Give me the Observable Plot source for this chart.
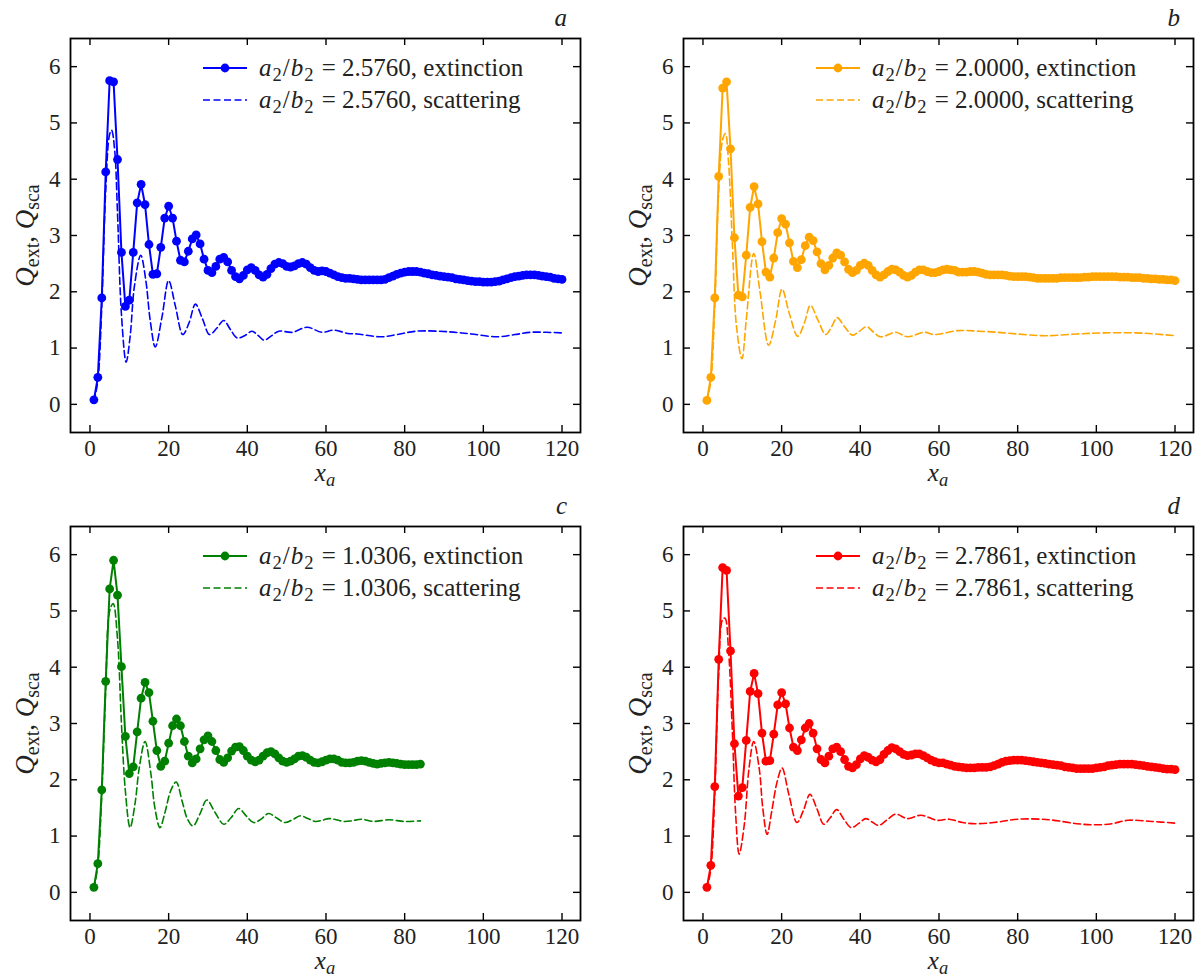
<!DOCTYPE html>
<html><head><meta charset="utf-8">
<script src="https://cdn.jsdelivr.net/npm/d3@7"></script>
<script src="https://cdn.jsdelivr.net/npm/@observablehq/plot@0.6"></script>
<style>
body{margin:0;background:#fff;}
#wrap{position:relative;width:1198px;height:979px;overflow:hidden;}
.panel{position:absolute;width:585px;height:488px;}
.panel svg{position:absolute;left:0;top:0;overflow:visible;}
.lab{position:absolute;color:#222;line-height:1;white-space:nowrap;}
.sb{font-size:0.74em;position:relative;top:0.25em;}
</style></head><body>
<div id="warm" style="position:absolute;left:-2000px;top:0;font-family:'Liberation Serif';font-size:24px">Qag 2.5760 <i>ab</i></div>
<div id="wrap"></div>
<script>
// ---------- data ----------
const xTicks = [0, 20, 40, 60, 80, 100, 120];
const yTicks = [0, 1, 2, 3, 4, 5, 6];
const panelLetters = ["a", "b", "c", "d"];
const ratios = ["2.5760", "2.0000", "1.0306", "2.7861"];
const colors = ["#0000ff", "#ffa500", "#008000", "#ff0000"];

// extinction, x = 1, 2, 3, ...
const extA = [0.08,0.48,1.89,4.13,5.75,5.73,4.35,2.70,1.74,1.85,2.70,3.58,3.91,3.55,2.84,2.31,2.32,2.79,3.31,3.52,
3.31,2.90,2.56,2.53,2.72,2.94,3.01,2.85,2.58,2.38,2.34,2.45,2.58,2.61,2.53,2.38,2.27,2.23,2.29,2.39,
2.43,2.38,2.30,2.26,2.31,2.41,2.49,2.52,2.50,2.45,2.44,2.46,2.50,2.52,2.49,2.43,2.38,2.36,2.37,2.36,
2.33,2.30,2.27,2.25,2.24,2.24,2.23,2.22,2.21,2.21,2.21,2.21,2.21,2.21,2.22,2.25,2.28,2.31,2.33,2.35,
2.36,2.36,2.36,2.35,2.33,2.32,2.30,2.29,2.28,2.27,2.26,2.25,2.23,2.22,2.21,2.20,2.19,2.18,2.18,2.17,
2.17,2.17,2.18,2.19,2.21,2.23,2.25,2.27,2.28,2.29,2.30,2.30,2.30,2.29,2.28,2.27,2.26,2.24,2.23,2.22];
const extB = [0.07,0.48,1.89,4.05,5.62,5.73,4.54,2.96,1.94,1.91,2.65,3.50,3.87,3.56,2.89,2.35,2.26,2.60,3.05,3.30,
3.20,2.87,2.54,2.43,2.57,2.82,2.97,2.91,2.71,2.50,2.39,2.47,2.60,2.69,2.65,2.53,2.40,2.34,2.38,2.47,
2.51,2.47,2.38,2.30,2.26,2.30,2.36,2.40,2.39,2.35,2.29,2.26,2.29,2.35,2.39,2.39,2.36,2.34,2.34,2.36,
2.39,2.40,2.39,2.38,2.35,2.35,2.35,2.36,2.36,2.35,2.33,2.31,2.30,2.30,2.30,2.30,2.29,2.28,2.27,2.27,
2.27,2.27,2.26,2.25,2.24,2.24,2.24,2.24,2.24,2.24,2.25,2.25,2.25,2.25,2.25,2.25,2.26,2.26,2.27,2.27,
2.27,2.27,2.27,2.27,2.27,2.26,2.26,2.26,2.25,2.25,2.25,2.24,2.24,2.23,2.23,2.22,2.22,2.21,2.21,2.20];
const extC = [0.09,0.51,1.82,3.75,5.39,5.90,5.28,4.01,2.77,2.11,2.23,2.85,3.45,3.73,3.55,3.04,2.52,2.24,2.33,2.65,
2.96,3.08,2.96,2.68,2.42,2.30,2.37,2.55,2.71,2.78,2.68,2.52,2.36,2.31,2.39,2.51,2.58,2.59,2.52,2.42,
2.35,2.32,2.35,2.42,2.48,2.50,2.46,2.39,2.33,2.31,2.33,2.37,2.42,2.43,2.40,2.35,2.31,2.30,2.32,2.35,
2.37,2.37,2.35,2.31,2.30,2.30,2.31,2.33,2.34,2.33,2.31,2.29,2.28,2.29,2.30,2.31,2.30,2.29,2.28,2.27,
2.27,2.27,2.27,2.28];
const extD = [0.09,0.48,1.88,4.14,5.77,5.72,4.29,2.64,1.71,1.86,2.70,3.57,3.89,3.53,2.83,2.33,2.34,2.81,3.33,3.55,
3.35,2.92,2.58,2.52,2.71,2.92,3.00,2.83,2.55,2.36,2.30,2.42,2.55,2.58,2.50,2.36,2.24,2.21,2.27,2.37,
2.43,2.40,2.35,2.32,2.36,2.45,2.52,2.57,2.55,2.50,2.45,2.43,2.44,2.46,2.46,2.43,2.39,2.35,2.32,2.30,
2.30,2.28,2.26,2.24,2.23,2.22,2.21,2.21,2.21,2.22,2.22,2.22,2.23,2.25,2.28,2.31,2.33,2.34,2.35,2.35,
2.35,2.34,2.33,2.32,2.31,2.30,2.29,2.28,2.27,2.26,2.25,2.23,2.22,2.21,2.20,2.20,2.20,2.20,2.20,2.21,
2.22,2.23,2.25,2.26,2.27,2.28,2.28,2.28,2.28,2.27,2.26,2.25,2.24,2.23,2.22,2.21,2.20,2.19,2.19,2.18];

// scattering (dashed), read as (x, value) pairs along the curve
const scaAx = [1,2,3,4,5,5.5,6.3,7,8,9.2,10.2,11.3,12.9,14.2,15.3,16.6,18.3,20,21.7,23.6,25.2,26.8,28.6,30.4,32.2,34,35.7,37.4,39.3,41.2,42.8,44.3,46.2,48,51.4,55.2,59,62,65.5,68,74,78,83,91,97,103.6,108,112,116,120];
const scaAy = [0.05,0.42,1.75,3.8,4.8,4.87,4.5,3.4,1.6,0.75,1.2,2.1,2.65,2.2,1.5,1.02,1.55,2.20,1.75,1.24,1.45,1.78,1.52,1.24,1.35,1.49,1.33,1.18,1.22,1.30,1.22,1.14,1.22,1.30,1.28,1.37,1.28,1.32,1.26,1.25,1.20,1.24,1.30,1.29,1.25,1.20,1.24,1.28,1.28,1.27];
const scaBx = [1,2,3,4,5,5.7,6.5,7.5,8.5,9.9,11,12.9,14.5,16.7,18.5,20.1,22,24.1,25.8,27.3,29.2,31.2,32.7,34.1,36,38,39.8,41.6,43.4,45.2,49,52,56.2,59,64.7,70,75,80,87,95,102,110,115,120];
const scaBy = [0.05,0.42,1.75,3.8,4.7,4.81,4.3,2.8,1.4,0.81,1.5,2.68,2.0,1.05,1.5,2.05,1.6,1.21,1.45,1.76,1.5,1.24,1.38,1.54,1.38,1.23,1.3,1.38,1.28,1.20,1.28,1.20,1.28,1.24,1.31,1.30,1.28,1.25,1.22,1.25,1.27,1.27,1.25,1.22];
const scaCx = [1,2,3,4,5,5.9,7,8,9,10.2,11.5,12.5,14,15.5,16.5,17.8,19,20.5,21.9,23.5,24.8,26.2,28,29.7,31.8,34,35.8,37.8,39.7,41.6,43.5,45.4,47.5,49.6,51.5,53.5,55.4,57.3,59,60.7,62.6,64.6,66.5,69,72,76,80,84];
const scaCy = [0.06,0.48,1.75,3.6,5.0,5.13,4.5,3.0,1.8,1.15,1.6,2.2,2.68,2.1,1.5,1.15,1.4,1.8,1.96,1.6,1.3,1.18,1.4,1.64,1.42,1.21,1.32,1.49,1.36,1.24,1.30,1.40,1.32,1.24,1.29,1.36,1.31,1.26,1.28,1.31,1.29,1.26,1.27,1.30,1.26,1.29,1.26,1.27];
const scaDx = [1,2,3,4,5,5.6,6.5,7.5,8.3,9.2,10.5,11.7,12.9,14.3,15.2,16.3,17.5,18.8,20.1,21.8,23.9,25.5,27.2,29,30.7,32.3,34,35.8,37.7,39.5,41.4,43,44.7,47,49,52,55.4,59.6,62.6,66,70,75,80,88,95,100,104,108,114,120];
const scaDy = [0.05,0.42,1.75,3.9,4.85,4.87,4.3,2.8,1.4,0.68,1.2,2.2,2.68,2.2,1.5,1.03,1.45,1.95,2.21,1.75,1.24,1.45,1.74,1.48,1.21,1.32,1.47,1.3,1.15,1.22,1.31,1.25,1.19,1.3,1.39,1.31,1.37,1.28,1.30,1.24,1.22,1.25,1.30,1.29,1.22,1.20,1.22,1.28,1.26,1.23];

const extAll = [extA, extB, extC, extD];
const scaXAll = [scaAx, scaBx, scaCx, scaDx];
const scaYAll = [scaAy, scaBy, scaCy, scaDy];

// ---------- drawing ----------
const W = 585, H = 488, mL = 70, mR = 5, mT = 38, mB = 56;
const fw = W - mL - mR, fh = H - mT - mB;
const FONT = "'Liberation Serif'";
const TXT = "#222";
const warm = document.getElementById("warm");
void warm.offsetWidth; // force font matching early
const wrap = document.getElementById("wrap");
const ASC = 0.8375; // baseline offset (em) for line-height 1
const fontTargets = [];

function label(parent, html, size, left, baseline, extra) {
  const d = document.createElement("div");
  d.className = "lab";
  d.style.fontFamily = FONT;
  d.style.fontSize = size + "px";
  d.style.left = left + "px";
  d.style.top = (baseline - ASC * size) + "px";
  d.innerHTML = html;
  if (extra) Object.assign(d.style, extra);
  parent.appendChild(d);
  fontTargets.push(d);
  return d;
}

for (let k = 0; k < 4; k++) {
  const color = colors[k];
  const ext = extAll[k].map((v, i) => ({x: i + 1, y: v}));
  const sca = scaXAll[k].map((x, i) => ({x, y: scaYAll[k][i]}));
  const panel = document.createElement("div");
  panel.className = "panel";
  panel.style.left = (k % 2 === 0 ? 0 : 613) + "px";
  panel.style.top = (k < 2 ? 0 : 488) + "px";
  panel.style.fontFamily = FONT;
  wrap.appendChild(panel);

  const chart = Plot.plot({
    width: W, height: H, marginLeft: mL, marginRight: mR, marginTop: mT, marginBottom: mB,
    x: {domain: [-4.95, 124.7]},
    y: {domain: [-0.5, 6.5]},
    style: {fontFamily: FONT, fontSize: "23px", color: TXT, background: "transparent", overflow: "visible"},
    marks: [
      Plot.axisX(xTicks, {tickSize: 0, tickPadding: 7, label: null, fontSize: 23, fill: TXT, tickFormat: "d"}),
      Plot.axisY(yTicks, {tickSize: 0, tickPadding: 10, label: null, fontSize: 23, fill: TXT, tickFormat: "d"}),
      Plot.ruleX(xTicks, {x: d => d, insetTop: fh - 7, stroke: "#000", strokeWidth: 1.4}),
      Plot.ruleX(xTicks, {x: d => d, insetBottom: fh - 7, stroke: "#000", strokeWidth: 1.4}),
      Plot.ruleY(yTicks, {y: d => d, insetRight: fw - 7, stroke: "#000", strokeWidth: 1.4}),
      Plot.ruleY(yTicks, {y: d => d, insetLeft: fw - 7, stroke: "#000", strokeWidth: 1.4}),
      Plot.line(sca, {x: "x", y: "y", stroke: color, strokeWidth: 1.6, strokeDasharray: "7,3.5", curve: "catmull-rom"}),
      Plot.line(ext, {x: "x", y: "y", stroke: color, strokeWidth: 2}),
      Plot.dot(ext, {x: "x", y: "y", r: 4.4, fill: color, stroke: "none"}),
      Plot.frame({stroke: "#000", strokeWidth: 1.8})
    ]
  });
  panel.appendChild(chart);
  fontTargets.push(chart);
  const svg = d3.select(chart);
  svg.selectAll("text").style("font-family", FONT);

  // panel letter (right-aligned)
  label(panel, `<i>${panelLetters[k]}</i>`, 25, mL + fw - 13 - 60, 26, {width: "60px", textAlign: "right"});
  // x label (centered)
  label(panel, `<i>x</i><span class="sb"><i>a</i></span>`, 25, mL + fw / 2 - 50, 481, {width: "100px", textAlign: "center"});
  // y label (rotated)
  const ys = 27, cy = mT + fh / 2;
  label(panel, `<i>Q</i><span class="sb">ext</span>, <i>Q</i><span class="sb">sca</span>`, ys, 25 - 150,
        cy + ASC * ys - ys / 2, {width: "300px", textAlign: "center", transform: "rotate(-90deg)", transformOrigin: "50% 50%"});

  // legend samples
  const lx0 = mL + 133, lx1 = mL + 177, tx = mL + 189;
  svg.append("line").attr("x1", lx0).attr("x2", lx1).attr("y1", 68).attr("y2", 68)
    .attr("stroke", color).attr("stroke-width", 2);
  svg.append("circle").attr("cx", (lx0 + lx1) / 2).attr("cy", 68).attr("r", 4.4).attr("fill", color);
  svg.append("line").attr("x1", lx0).attr("x2", lx1).attr("y1", 100).attr("y2", 100)
    .attr("stroke", color).attr("stroke-width", 1.6).attr("stroke-dasharray", "7,3.5");
  const lab = (kind) => `<i>a</i><span class="sb" style="margin:0 1px">2</span>/<i style="margin-left:1px">b</i><span class="sb" style="margin:0 2px 0 1px">2</span> = ${ratios[k]},&nbsp;${kind}`;
  label(panel, lab("extinction"), 25, tx, 76);
  label(panel, lab("scattering"), 25, tx, 108);
}

// re-apply the font once it is ready, then drop the warm-up element
function reapply() {
  for (const el of fontTargets) { el.style.fontFamily = ""; el.style.fontFamily = FONT; }
  d3.selectAll("#wrap svg text").style("font-family", FONT);
}
if (document.fonts && document.fonts.load) {
  Promise.all([document.fonts.load("24px 'Liberation Serif'"), document.fonts.load("italic 24px 'Liberation Serif'")])
    .then(reapply).catch(() => {}).finally(() => warm.remove());
} else {
  warm.remove();
}
requestAnimationFrame(reapply);
</script></body></html>
